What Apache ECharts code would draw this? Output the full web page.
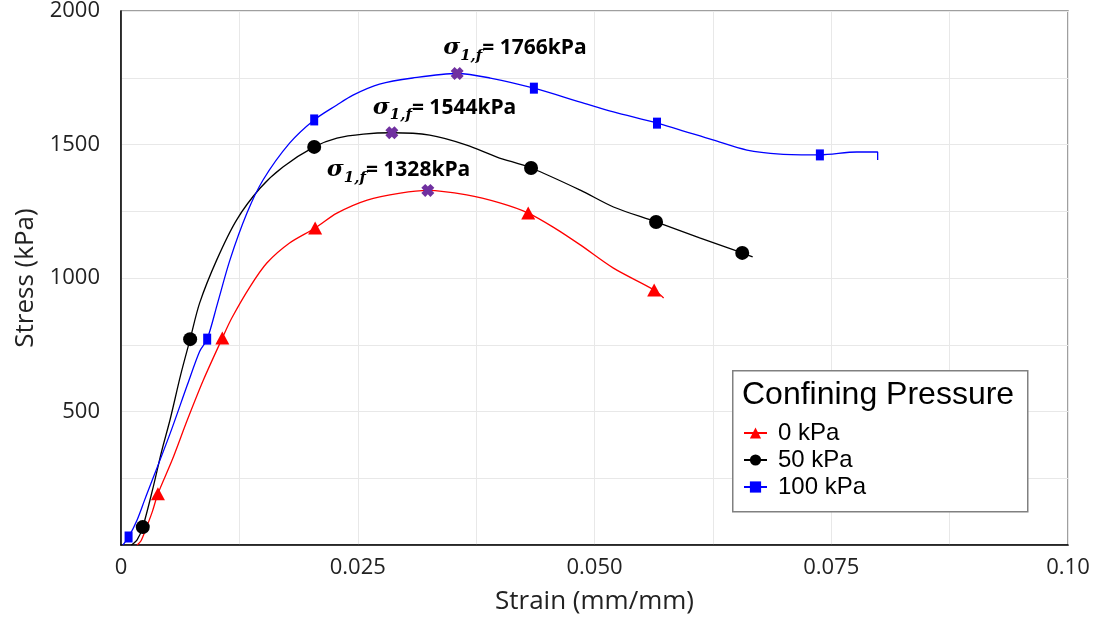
<!DOCTYPE html>
<html>
<head>
<meta charset="utf-8">
<title>Stress-strain</title>
<script src="https://cdn.jsdelivr.net/npm/echarts/dist/echarts.min.js"></script>
<style>
  html, body { margin: 0; padding: 0; background: #fff; }
  #chart { width: 1093px; height: 623px; }
</style>
</head>
<body>
<div id="chart"></div>
<script>
// tick labels
const xTickLabels = ['0', '0.025', '0.050', '0.075', '0.10'];
const yTickLabels = ['', '500', '1000', '1500', '2000'];
const legendNames = ['0 kPa', '50 kPa', '100 kPa'];

// 0 kPa curve (strain, stress) and which points carry a marker
const strain0 = [0.0017, 0.0021, 0.0027, 0.0033, 0.0039, 0.0054, 0.0070, 0.0087, 0.0107, 0.0117, 0.0136, 0.0154, 0.0178, 0.0205, 0.0228, 0.0260, 0.0295, 0.0324, 0.0365, 0.0400, 0.0430, 0.0458, 0.0485, 0.0520, 0.0563, 0.0573];
const stress0 = [0, 15, 67, 124, 192, 318, 468, 618, 775, 850, 966, 1056, 1131, 1187, 1243, 1292, 1318, 1328, 1311, 1281, 1243, 1187, 1124, 1037, 955, 925];
const marks0 = [4, 8, 13, 20, 24];

// 50 kPa
const strain50 = [0.0011, 0.0017, 0.0023, 0.0034, 0.0043, 0.0052, 0.0063, 0.0073, 0.0083, 0.0101, 0.0122, 0.0147, 0.0171, 0.0204, 0.0228, 0.0256, 0.0286, 0.0326, 0.0365, 0.0397, 0.0433, 0.0485, 0.0520, 0.0565, 0.0611, 0.0656, 0.0667];
const stress50 = [0, 19, 67, 217, 352, 472, 637, 771, 906, 1067, 1217, 1337, 1416, 1491, 1524, 1539, 1544, 1535, 1498, 1453, 1412, 1329, 1266, 1210, 1150, 1094, 1079];
const marks50 = [2, 7, 13, 20, 23, 25];

// 100 kPa
const strain100 = [0.0002, 0.0008, 0.0017, 0.0025, 0.0052, 0.0070, 0.0083, 0.0091, 0.0102, 0.0115, 0.0133, 0.0150, 0.0178, 0.0204, 0.0228, 0.0245, 0.0273, 0.0308, 0.0355, 0.0390, 0.0436, 0.0485, 0.0520, 0.0566, 0.0625, 0.0661, 0.0696, 0.0738, 0.0777, 0.0799, 0.0799];
const stress100 = [0, 30, 94, 169, 419, 599, 725, 771, 906, 1067, 1243, 1367, 1505, 1592, 1648, 1685, 1726, 1749, 1766, 1749, 1711, 1659, 1622, 1580, 1517, 1479, 1464, 1461, 1472, 1472, 1442];
const marks100 = [1, 7, 13, 20, 23, 27];

// failure (peak) points
const peakStrain = [0.0324, 0.0286, 0.0355];
const peakStress = [1328, 1544, 1766];

const chart = echarts.init(document.getElementById('chart'));

function curve(name, strain, stress, marks, color, symbol, size) {
  const data = strain.map(function (x, i) {
    return marks.indexOf(i) >= 0 ? [x, stress[i]] : { value: [x, stress[i]], symbol: 'none' };
  });
  return {
    type: 'line',
    name: name,
    data: data,
    smooth: 0.3,
    symbol: symbol,
    symbolSize: size,
    showSymbol: true,
    lineStyle: { color: color, width: 1.3 },
    itemStyle: { color: color },
    emphasis: { disabled: true }
  };
}

const labelOffsets = [[-101, -20], [-19, -25], [-14, -25]];
const xMark = 'path://M0,3 L3,0 L5,2 L7,0 L10,3 L8,5 L10,7 L7,10 L5,8 L3,10 L0,7 L2,5 Z';

const peakData = peakStrain.map(function (x, i) {
  return {
    value: [x, peakStress[i]],
    label: {
      show: true,
      position: 'inside',
      align: 'left',
      verticalAlign: 'middle',
      color: '#000',
      offset: labelOffsets[i],
      formatter: '{s|σ}{sub|1,f}{t|= ' + peakStress[i] + 'kPa}',
      rich: {
        s: { fontFamily: 'DejaVu Serif', fontStyle: 'italic', fontWeight: 'bold', fontSize: 23, color: '#000', lineHeight: 30, verticalAlign: 'middle' },
        sub: { fontFamily: 'DejaVu Serif', fontStyle: 'italic', fontWeight: 'bold', fontSize: 15, color: '#000', lineHeight: 30, verticalAlign: 'bottom' },
        t: { fontFamily: 'Open Sans', fontWeight: 'bold', fontSize: 21, color: '#000', lineHeight: 30, verticalAlign: 'middle' }
      }
    }
  };
});

const axisFont = { fontFamily: 'Open Sans', fontSize: 22, color: '#222' };

chart.setOption({
  animation: false,
  backgroundColor: '#fff',
  grid: {
    left: 121, right: 25, top: 11, bottom: 78,
    show: true, borderColor: '#808080', borderWidth: 1.5, backgroundColor: '#fff'
  },
  xAxis: {
    type: 'value', min: 0, max: 0.1, interval: 0.025,
    name: 'Strain (mm/mm)', nameLocation: 'middle', nameGap: 44,
    nameTextStyle: { fontFamily: 'Open Sans', fontSize: 26, color: '#222' },
    axisLine: { show: true, lineStyle: { color: '#000', width: 1.5 } },
    axisTick: { show: false },
    axisLabel: Object.assign({ margin: 12, formatter: function (v) { return xTickLabels[Math.round(v / 0.025)] || ''; } }, axisFont),
    splitLine: { show: true, lineStyle: { color: '#e8e8e8', width: 1 } },
    minorTick: { show: false, splitNumber: 2 },
    minorSplitLine: { show: true, lineStyle: { color: '#e8e8e8', width: 1 } }
  },
  yAxis: {
    type: 'value', min: 0, max: 2000, interval: 500,
    name: 'Stress (kPa)', nameLocation: 'middle', nameGap: 80,
    nameTextStyle: { fontFamily: 'Open Sans', fontSize: 26, color: '#222' },
    axisLine: { show: true, lineStyle: { color: '#000', width: 1.5 } },
    axisTick: { show: false },
    axisLabel: Object.assign({ margin: 21, formatter: function (v) { return yTickLabels[Math.round(v / 500)] || ''; } }, axisFont),
    splitLine: { show: true, lineStyle: { color: '#e8e8e8', width: 1 } },
    minorTick: { show: false, splitNumber: 2 },
    minorSplitLine: { show: true, lineStyle: { color: '#e8e8e8', width: 1 } }
  },
  legend: {
    data: legendNames,
    orient: 'vertical',
    left: 743, top: 421,
    padding: 0,
    itemGap: 3,
    itemWidth: 23, itemHeight: 14,
    textStyle: { fontFamily: 'Liberation Sans', fontSize: 24, color: '#000', padding: [0, 0, 0, 6] },
    z: 60
  },
  graphic: [
    {
      type: 'rect', left: 732, top: 370, z: 50,
      shape: { width: 295, height: 141 },
      style: { fill: '#fff', stroke: '#808080', lineWidth: 1.5 }
    },
    {
      type: 'text', left: 742, top: 379, z: 51,
      style: { text: 'Confining Pressure', fontFamily: 'Liberation Sans', fontSize: 32, fill: '#000' }
    }
  ],
  series: [
    curve(legendNames[0], strain0, stress0, marks0, '#ff0000', 'triangle', [14, 13]),
    curve(legendNames[1], strain50, stress50, marks50, '#000000', 'circle', 14),
    curve(legendNames[2], strain100, stress100, marks100, '#0000ff', 'rect', [8, 11]),
    {
      type: 'scatter',
      name: 'failure',
      data: peakData,
      symbol: xMark,
      symbolSize: 13,
      itemStyle: { color: '#7030a0', opacity: 1 },
      emphasis: { disabled: true },
      z: 5
    }
  ]
});
</script>
</body>
</html>
